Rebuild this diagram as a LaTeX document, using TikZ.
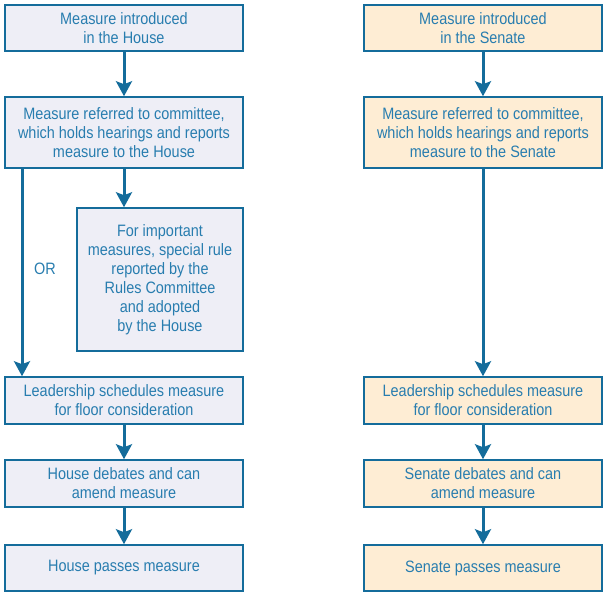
\documentclass[tikz,border=0pt]{standalone}
\usepackage{fontspec}
\setmainfont{Liberation Sans}[FakeStretch=0.875]
\usepackage{xcolor}
\usepackage{tikz}
\usetikzlibrary{arrows.meta,positioning,calc}

\definecolor{lineblue}{RGB}{20,108,155}
\definecolor{textblue}{RGB}{40,125,175}
\definecolor{housefill}{RGB}{238,238,246}
\definecolor{senatefill}{RGB}{254,237,212}

\tikzset{
  stepbox/.style={draw=lineblue, line width=1.5pt, text=textblue,
    minimum width=238pt, align=center, inner sep=2pt,
    font=\fontsize{16.5}{19}\selectfont},
  house/.style={stepbox, fill=housefill},
  senate/.style={stepbox, fill=senatefill},
  flow/.style={draw=lineblue, line width=3pt,
    -{Stealth[length=15pt,width=16pt,inset=3pt]}}
}

\begin{document}
\begin{tikzpicture}[x=1pt,y=-1pt]
    \useasboundingbox (0,0) rectangle (603,593);

    % House column
    \node[house, minimum height=46pt] (hintro) at (124,28) {Measure introduced\\in the House};
    \node[house, minimum height=71pt] (hcomm) at (124,132.5) {Measure referred to committee,\\which holds hearings and reports\\measure to the House};
    \node[house, minimum width=166pt, minimum height=143pt] (hrule) at (160,279.5)
        {For important\\measures, special rule\\reported by the\\Rules Committee\\and adopted\\by the House};
    \node[house, minimum height=47pt] (hlead) at (124,400.5) {Leadership schedules measure\\for floor consideration};
    \node[house, minimum height=47pt] (hdebate) at (124,483.5) {House debates and can\\amend measure};
    \node[house, minimum height=46pt] (hpass) at (124,568) {House passes measure};

    % Senate column
    \node[senate, minimum height=46pt] (sintro) at (483,28) {Measure introduced\\in the Senate};
    \node[senate, minimum height=71pt] (scomm) at (483,132.5) {Measure referred to committee,\\which holds hearings and reports\\measure to the Senate};
    \node[senate, minimum height=47pt] (slead) at (483,400.5) {Leadership schedules measure\\for floor consideration};
    \node[senate, minimum height=47pt] (sdebate) at (483,483.5) {Senate debates and can\\amend measure};
    \node[senate, minimum height=46pt] (spass) at (483,568) {Senate passes measure};

    % OR path
    \coordinate (orline) at (22,0);
    \node[text=textblue, font=\fontsize{16.5}{19}\selectfont] (orlabel) at (45,269) {OR};

    % Arrows
    \draw[flow] (hintro) -- (hcomm);
    \draw[flow] (hcomm.south) -- (hrule.north -| hcomm.south);
    \draw[flow] (hcomm.south -| orline) -- (hlead.north -| orline);
    \draw[flow] (hlead) -- (hdebate);
    \draw[flow] (hdebate) -- (hpass);

    \draw[flow] (sintro) -- (scomm);
    \draw[flow] (scomm) -- (slead);
    \draw[flow] (slead) -- (sdebate);
    \draw[flow] (sdebate) -- (spass);
\end{tikzpicture}
\end{document}
